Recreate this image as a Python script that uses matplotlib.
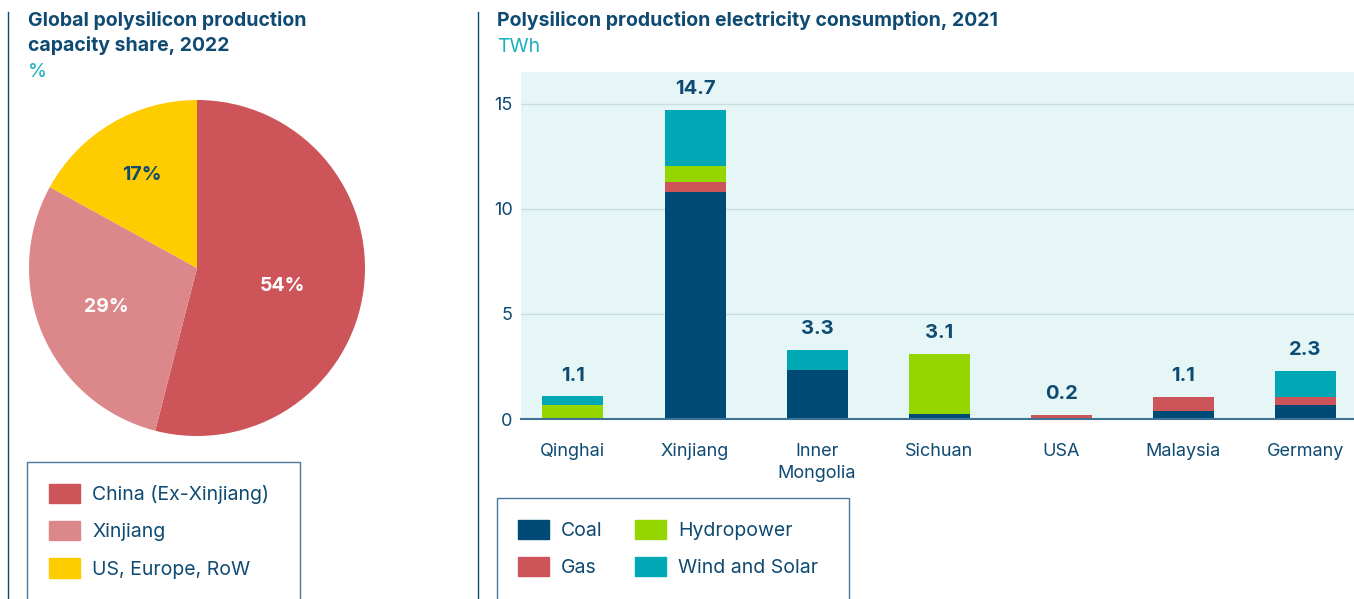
import matplotlib.pyplot as plt
import numpy as np
from matplotlib.patches import Rectangle, Patch
from matplotlib.lines import Line2D

plt.rcParams['font.family'] = ['Inter', 'DejaVu Sans']

# pie data
pie_labels = ['China (Ex-Xinjiang)', 'Xinjiang', 'US, Europe, RoW']
pie_values = [54, 29, 17]
pie_colors = ['#CD5459', '#DC888A', '#FFCC00']

# bar data, TWh
regions = ['Qinghai', 'Xinjiang', 'Inner\nMongolia', 'Sichuan', 'USA', 'Malaysia', 'Germany']
coal = [0.0, 10.8, 2.35, 0.25, 0.0, 0.4, 0.65]
gas = [0.0, 0.48, 0.0, 0.0, 0.2, 0.65, 0.38]
hydro = [0.67, 0.76, 0.0, 2.85, 0.0, 0.0, 0.0]
wind_solar = [0.4, 2.66, 0.95, 0.0, 0.0, 0.0, 1.27]
totals = ['1.1', '14.7', '3.3', '3.1', '0.2', '1.1', '2.3']
sources = ['Coal', 'Gas', 'Hydropower', 'Wind and Solar']
src_colors = ['#004A76', '#CD5459', '#96D600', '#00A8B5']

navy = '#0E4A72'
teal = '#1AAFBF'
W, H = 1354, 599

fig = plt.figure(figsize=(13.54, 5.99), dpi=100)

def fx(px):
    return px / W

def fy(py):
    return 1 - py / H

# separators
fig.add_artist(Line2D([fx(8), fx(8)], [fy(12), 0], color=navy, lw=1))
fig.add_artist(Line2D([fx(478), fx(478)], [fy(12), 0], color=navy, lw=1))

# titles
fig.text(fx(28), fy(11), 'Global polysilicon production\ncapacity share, 2022', fontsize=14,
         fontweight='bold', color=navy, va='top', ha='left', linespacing=1.38)
fig.text(fx(28), fy(63), '%', fontsize=14, color=teal, va='top', ha='left')
fig.text(fx(497), fy(11), 'Polysilicon production electricity consumption, 2021', fontsize=14,
         fontweight='bold', color=navy, va='top', ha='left')
fig.text(fx(497), fy(38), 'TWh', fontsize=14, color=teal, va='top', ha='left')

# pie
r = 168
cx, cy = 197, 268
ax1 = fig.add_axes([fx(cx - r), fy(cy + r), 2 * r / W, 2 * r / H])
wedges, texts = ax1.pie(pie_values, colors=pie_colors, startangle=90, counterclock=False,
                        wedgeprops=dict(linewidth=0))
ax1.set_aspect('auto')
ax1.set_xlim(-1, 1)
ax1.set_ylim(-1, 1)
lbl_cols = ['white', 'white', navy]
lbl_r = [0.52, 0.59, 0.64]
lbl_da = [-5, 0, 0]
for w, v, c, rr, da in zip(wedges, pie_values, lbl_cols, lbl_r, lbl_da):
    ang = np.deg2rad((w.theta1 + w.theta2) / 2 + da)
    ax1.text(rr * np.cos(ang), rr * np.sin(ang), f'{v}%', ha='center', va='center',
             fontsize=14, fontweight='bold', color=c)

# bars
ax2 = fig.add_axes([fx(521), fy(419), (W - 521) / W, (419 - 72) / H])
ax2.set_facecolor('#E6F6F7')
x = np.arange(len(regions))
bottom = np.zeros(len(regions))
for vals, col, name in zip([coal, gas, hydro, wind_solar], src_colors, sources):
    ax2.bar(x, vals, 0.5, bottom=bottom, color=col, label=name, zorder=3)
    bottom += np.array(vals)
for xi, b, t in zip(x, bottom, totals):
    ax2.text(xi, b + 0.55, t, ha='center', va='bottom', fontsize=14.5, fontweight='bold', color=navy)
ax2.set_xlim(-0.426, 6.40)
ax2.set_ylim(0, 16.5)
ax2.set_yticks([0, 5, 10, 15])
ax2.set_xticks(x)
ax2.set_xticklabels(regions, linespacing=1.45)
ax2.grid(axis='y', color='#C8DDE2', lw=1, zorder=1)
for s in ['top', 'right', 'left']:
    ax2.spines[s].set_visible(False)
ax2.spines['bottom'].set_color('#3F7396')
ax2.spines['bottom'].set_linewidth(1.5)
ax2.spines['bottom'].set_zorder(4)
ax2.tick_params(axis='both', length=0, labelsize=13, labelcolor=navy)
ax2.tick_params(axis='x', pad=17)
ax2.tick_params(axis='y', pad=6)

# legend boxes
fig.add_artist(Rectangle((fx(27), -0.01), fx(300) - fx(27), fy(462) + 0.01, fill=False,
                         edgecolor='#4A7A9C', lw=1))
fig.add_artist(Rectangle((fx(497), -0.01), fx(849) - fx(497), fy(498) + 0.01, fill=False,
                         edgecolor='#4A7A9C', lw=1))

h1 = [Patch(color=c) for c in pie_colors]
fig.legend(h1, pie_labels, loc='upper left', bbox_to_anchor=(fx(49), fy(484)), frameon=False,
           fontsize=14, labelcolor=navy, handlelength=1.6, handleheight=1.13,
           labelspacing=0.88, handletextpad=0.62, borderpad=0, borderaxespad=0)
h2 = [Patch(color=c) for c in src_colors]
fig.legend(h2, sources, loc='upper left', bbox_to_anchor=(fx(518), fy(520)), frameon=False,
           fontsize=14, labelcolor=navy, ncol=2, handlelength=1.6, handleheight=1.13,
           labelspacing=0.88, handletextpad=0.62, columnspacing=1.65, borderpad=0,
           borderaxespad=0)

fig.savefig('out.png', dpi=100)
